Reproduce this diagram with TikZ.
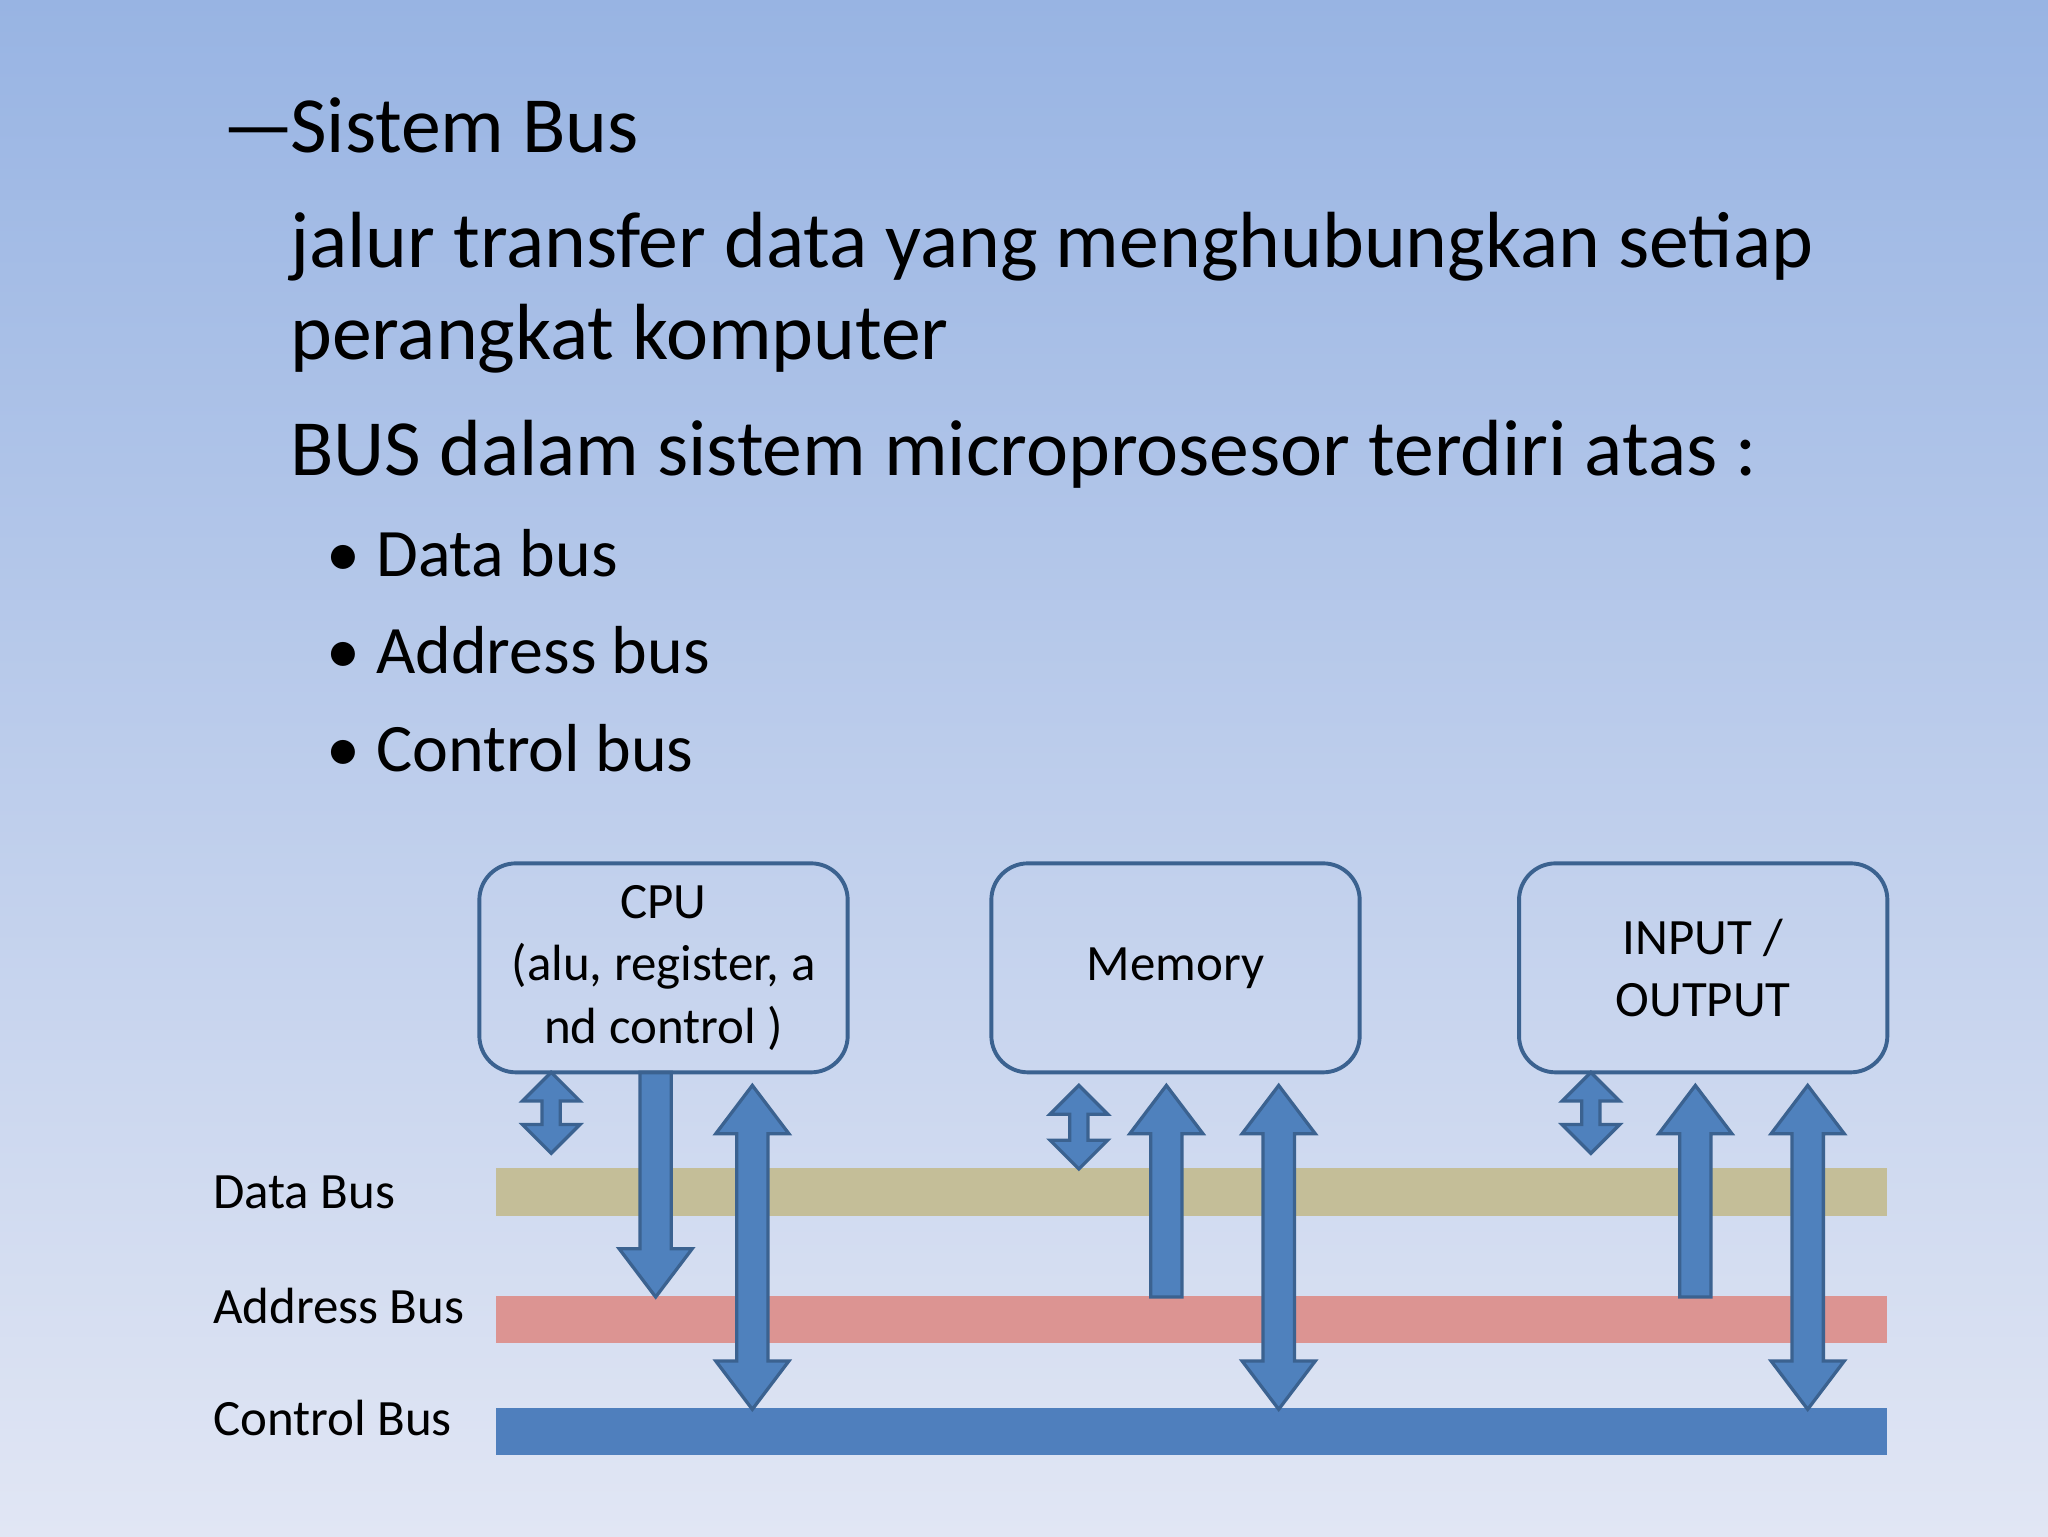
\documentclass[tikz,border=0pt]{standalone}
\usepackage{fontspec}
\setmainfont{Carlito}
\definecolor{bgtop}{HTML}{98B4E3}
\definecolor{bgbot}{HTML}{E1E6F4}
\definecolor{databus}{HTML}{C4BE98}
\definecolor{addrbus}{HTML}{DC9492}
\definecolor{ctrlbus}{HTML}{4F7FBD}
\definecolor{arrfill}{HTML}{4F81BD}
\definecolor{arredge}{HTML}{3B6290}
\tikzset{
  unitbox/.style={draw=arredge,line width=3pt,rounded corners=28pt,minimum width=282pt,minimum height=160pt,align=center,font=\fontsize{39}{48}\selectfont,inner sep=0pt},
  arr/.style={fill=arrfill,draw=arredge,line width=2.5pt,line join=miter},
  main/.style={anchor=base west,font=\fontsize{61}{70}\selectfont,inner sep=0pt},
  lbl/.style={anchor=west,font=\fontsize{39}{44}\selectfont,inner sep=0pt}
}
% double arrow: x, ytop, ybot, shaft half, head half, head len
\newcommand{\dblarr}[6]{\draw[arr] (#1,#2) -- (#1+#5,#2+#6) -- (#1+#4,#2+#6) -- (#1+#4,#3-#6) -- (#1+#5,#3-#6) -- (#1,#3) -- (#1-#5,#3-#6) -- (#1-#4,#3-#6) -- (#1-#4,#2+#6) -- (#1-#5,#2+#6) -- cycle;}
% up arrow: tip at ytop, flat bottom at ybot
\newcommand{\uparr}[3]{\draw[arr] (#1,#2) -- (#1+28,#2+37) -- (#1+12,#2+37) -- (#1+12,#3) -- (#1-12,#3) -- (#1-12,#2+37) -- (#1-28,#2+37) -- cycle;}
\newcommand{\downarr}[3]{\draw[arr] (#1,#3) -- (#1+28,#3-37) -- (#1+12,#3-37) -- (#1+12,#2) -- (#1-12,#2) -- (#1-12,#3-37) -- (#1-28,#3-37) -- cycle;}
\begin{document}
\begin{tikzpicture}[x=1pt,y=-1pt]
\shade[top color=bgtop,bottom color=bgbot] (0,0) rectangle (1568,1176);
\useasboundingbox (0,0) rectangle (1568,1176);
\node[main] (t0) at (170,117) {—};
\node[main] (t1) at (222,117) {Sistem Bus};
\node[main] (t2) at (222,205) {jalur transfer data yang menghubungkan setiap};
\node[main] (t3) at (222,275) {perangkat komputer};
\node[main] (t4) at (222,364) {BUS dalam sistem microprosesor terdiri atas :};
\node[main,font=\fontsize{52}{60}\selectfont] (b1) at (250,441) {•\hspace{12pt}Data bus};
\node[main,font=\fontsize{52}{60}\selectfont] (b2) at (250,516) {•\hspace{12pt}Address bus};
\node[main,font=\fontsize{52}{60}\selectfont] (b3) at (250,591) {•\hspace{12pt}Control bus};
% buses
\fill[databus] (380,894) rectangle (1445,931);
\fill[addrbus] (380,992) rectangle (1445,1028);
\fill[ctrlbus] (380,1078) rectangle (1445,1114);
\node[lbl] (l1) at (163,913) {Data Bus};
\node[lbl] (l2) at (163,1000) {Address Bus};
\node[lbl] (l3) at (163,1086) {Control Bus};
% arrows
\dblarr{422}{821}{883}{7}{22}{22}
\downarr{502}{821}{993}
\dblarr{576}{831}{1079}{12}{28}{37}
\dblarr{826}{831}{895}{7}{22}{22}
\uparr{893}{831}{993}
\dblarr{979}{831}{1079}{12}{28}{37}
\dblarr{1218}{821}{883}{7}{22}{22}
\uparr{1298}{831}{993}
\dblarr{1384}{831}{1079}{12}{28}{37}
% boxes
\node[unitbox] (cpu) at (508,741) {CPU\\(alu, register, a\\nd control )};
\node[unitbox] (mem) at (900,741) {Memory};
\node[unitbox] (io) at (1304,741) {INPUT /\\OUTPUT};
\end{tikzpicture}
\end{document}
